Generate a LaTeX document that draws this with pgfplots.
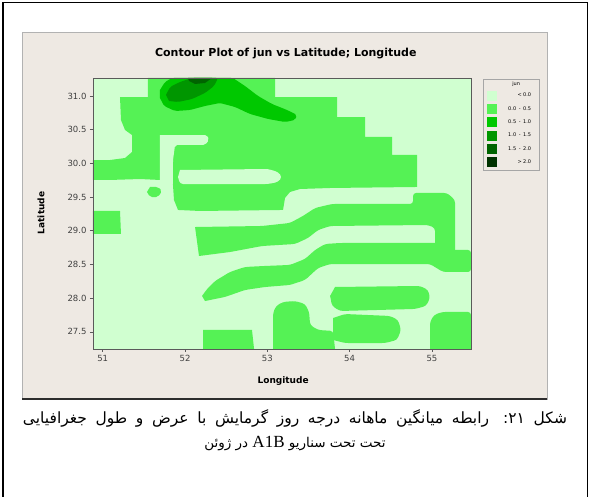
\documentclass[border=0pt]{standalone}
\usepackage{pgfplots}
\pgfplotsset{compat=1.18}
\usepackage{fontspec}
\setmainfont{DejaVu Sans}
\newfontfamily\arabicfont[Script=Arabic]{DejaVu Sans}
\newfontfamily\latinserif{Liberation Serif}
\TeXXeTstate=1

% contour level colours (jun)
\definecolor{c0}{RGB}{208,255,208}  % < 0.0
\definecolor{c1}{RGB}{85,242,85}    % 0.0 - 0.5
\definecolor{c2}{RGB}{0,200,0}      % 0.5 - 1.0
\definecolor{c3}{RGB}{0,150,0}      % 1.0 - 1.5
\definecolor{c4}{RGB}{0,100,0}      % 1.5 - 2.0
\definecolor{c5}{RGB}{0,50,0}       % > 2.0
\definecolor{panelbg}{RGB}{238,233,227}
\definecolor{axisgray}{RGB}{90,90,90}

\begin{document}
\begin{tikzpicture}[x=1pt,y=-1pt]
\path[use as bounding box] (0,0) rectangle (590,497);
\fill[white] (0,0) rectangle (590,497);
% cell frame
\draw[line width=1.4pt] (3,497) -- (3,2.5) -- (587.5,2.5) -- (587.5,497);
% graph panel
\fill[panelbg] (22,32) rectangle (547,399);
\draw[gray!60, line width=0.8pt] (22,32) rectangle (547,399);
\draw[gray!35!black, line width=1.5pt] (22,399) -- (547,399);

\begin{axis}[
  at={(93pt,-349pt)}, anchor=south west,
  scale only axis, width=378pt, height=271pt,
  xmin=50.882, xmax=55.475, ymin=27.246, ymax=31.267,
  axis background/.style={fill=c0},
  axis on top, no marks,
  axis line style={draw=axisgray, line width=0.8pt},
  tick align=outside, tick pos=left, major tick length=3pt,
  tick style={axisgray, line width=0.6pt},
  xtick={51,52,53,54,55}, ytick={27.5,28,28.5,29,29.5,30,30.5,31},
  yticklabel style={/pgf/number format/.cd, fixed, fixed zerofill, precision=1},
  /pgf/number format/assume math mode=true,
  ticklabel style={font=\fontsize{8.5}{10}\selectfont, text=black!75},
  title={Contour Plot of jun vs Latitude; Longitude},
  title style={font=\bfseries\fontsize{11}{13}\selectfont, at={(axis description cs:0.51,1.07)}, anchor=center},
  xlabel={Longitude}, ylabel={Latitude},
  xlabel style={font=\bfseries\fontsize{9}{11}\selectfont, at={(axis description cs:0.503,-0.118)}, anchor=center},
  ylabel style={font=\bfseries\fontsize{9}{11}\selectfont, at={(axis description cs:-0.1376,0.502)}, anchor=center},
  legend style={at={(axis description cs:1.0317,0.9963)}, anchor=north west,
    draw=gray!70, fill=panelbg, font=\fontsize{5}{6}\selectfont,
    inner xsep=4pt, inner ysep=3pt, row sep=3.3pt,
    nodes={inner sep=0pt}},
  legend cell align=left,
  legend image code/.code={\fill[#1, draw=none] (0pt,-5pt) rectangle (10pt,5pt);},
  every even column/.append style={column sep=7pt},
]

% 0.0 - 0.5 : main northern area
\addplot[fill=c1, draw=none, forget plot] coordinates {
 (51.210,30.985) (51.550,30.985) (51.550,31.267) (53.094,31.267) (53.094,30.985)
 (53.848,30.985) (53.848,30.688) (54.188,30.688) (54.188,30.392) (54.516,30.392)
 (54.516,30.125) (54.819,30.125) (54.819,29.650) (53.763,29.635) (53.398,29.620)
 (53.276,29.576) (53.215,29.487) (53.191,29.309) (52.182,29.294) (51.915,29.309)
 (51.866,29.457) (51.854,29.680) (51.769,29.709) (51.696,29.754) (51.453,29.768)
 (51.089,29.754) (50.882,29.754) (50.882,30.050) (51.089,30.050) (51.271,30.080)
 (51.356,30.169) (51.356,30.421) (51.271,30.496) (51.222,30.644)
};
% < 0.0 : openings inside it
\addplot[fill=c0, draw=none, forget plot, rounded corners=2pt] coordinates {
 (51.696,30.421) (52.268,30.421) (52.292,30.347) (52.243,30.273) (51.879,30.273)
 (51.854,30.050) (51.854,29.665) (51.696,29.665) (51.696,29.976)
};
\addplot[fill=c0, draw=none, forget plot, rounded corners=3pt] coordinates {
 (51.939,29.902) (53.009,29.917) (53.130,29.872) (53.179,29.798) (53.130,29.724)
 (53.009,29.694) (51.939,29.694) (51.915,29.798)
};
% 0.0 - 0.5 : smaller patches and bands
\addplot[fill=c1, draw=none, forget plot, rounded corners=2pt] coordinates {
 (51.575,29.650) (51.672,29.650) (51.721,29.591) (51.672,29.501) (51.575,29.501) (51.538,29.576)
};
\addplot[fill=c1, draw=none, forget plot] coordinates {
 (50.882,29.294) (51.210,29.294) (51.222,28.953) (50.882,28.953)
};
\addplot[fill=c1, draw=none, forget plot, rounded corners=3pt] coordinates {
 (52.122,29.056) (52.936,29.071) (53.276,29.116) (53.434,29.220) (53.580,29.338)
 (53.787,29.398) (54.771,29.398) (54.771,29.561) (55.184,29.561) (55.281,29.457)
 (55.281,28.537) (55.038,28.537) (55.038,29.041) (54.953,29.086) (53.763,29.071)
 (53.617,29.012) (53.495,28.893) (53.337,28.804) (52.936,28.774) (52.547,28.685)
 (52.170,28.626)
};
\addplot[fill=c1, draw=none, forget plot, rounded corners=3pt] coordinates {
 (52.207,28.033) (52.268,28.136) (52.365,28.255) (52.547,28.389) (52.729,28.463)
 (52.972,28.478) (53.276,28.493) (53.459,28.582) (53.580,28.715) (53.702,28.804)
 (53.884,28.819) (55.099,28.819) (55.135,28.715) (55.475,28.715) (55.475,28.389)
 (55.135,28.389) (54.977,28.507) (53.763,28.507) (53.617,28.448) (53.459,28.270)
 (53.276,28.196) (52.972,28.166) (52.729,28.122) (52.486,28.018) (52.243,27.958)
};
\addplot[fill=c1, draw=none, forget plot, rounded corners=3pt] coordinates {
 (53.823,28.166) (54.856,28.181) (54.953,28.122) (54.977,28.003) (54.929,27.884)
 (54.795,27.840) (53.884,27.810) (53.787,27.884) (53.763,28.033)
};
\addplot[fill=c1, draw=none, forget plot, rounded corners=3pt] coordinates {
 (53.070,27.246) (53.070,27.780) (53.106,27.884) (53.191,27.944) (53.337,27.958)
 (53.459,27.914) (53.508,27.795) (53.520,27.602) (53.617,27.528) (53.799,27.514)
 (53.823,27.246)
};
\addplot[fill=c1, draw=none, forget plot, rounded corners=3pt] coordinates {
 (53.799,27.706) (53.945,27.765) (54.491,27.736) (54.588,27.677) (54.625,27.528)
 (54.576,27.380) (54.431,27.335) (53.945,27.335) (53.799,27.380)
};
\addplot[fill=c1, draw=none, forget plot] coordinates {
 (52.219,27.528) (52.814,27.528) (52.839,27.246) (52.219,27.246)
};
\addplot[fill=c1, draw=none, forget plot, rounded corners=3pt] coordinates {
 (54.977,27.246) (54.977,27.647) (55.026,27.751) (55.123,27.795) (55.475,27.795) (55.475,27.246)
};
% 0.5 - 1.0
\addplot[fill=c2, draw=none, forget plot, rounded corners=2pt] coordinates {
 (51.696,31.089) (51.757,31.208) (51.842,31.267) (52.583,31.267) (52.729,31.148)
 (52.887,31.000) (53.057,30.881) (53.240,30.792) (53.361,30.718) (53.337,30.644)
 (53.215,30.614) (53.009,30.659) (52.790,30.733) (52.608,30.837) (52.425,30.896)
 (52.243,30.852) (52.061,30.792) (51.879,30.777) (51.745,30.852) (51.696,30.970)
};
% 1.0 - 1.5
\addplot[fill=c3, draw=none, forget plot, rounded corners=2pt] coordinates {
 (51.769,31.015) (51.818,31.134) (51.939,31.208) (52.085,31.267) (52.401,31.267)
 (52.353,31.148) (52.243,31.045) (52.085,30.955) (51.915,30.911) (51.806,30.926)
};
% 1.5 - 2.0
\addplot[fill=c4, draw=none, forget plot] coordinates {
 (52.037,31.267) (52.328,31.267) (52.243,31.193) (52.122,31.178) (52.049,31.223)
};

\addlegendimage{empty legend}
\addlegendentry{\makebox[38pt]{jun}}
\addlegendimage{fill=c0}
\addlegendentry{\makebox[19pt]{}\makebox[7pt]{<}\makebox[10pt][l]{0.0}}
\addlegendimage{fill=c1}
\addlegendentry{\makebox[19pt][r]{0.0}\makebox[7pt]{-}\makebox[10pt][l]{0.5}}
\addlegendimage{fill=c2}
\addlegendentry{\makebox[19pt][r]{0.5}\makebox[7pt]{-}\makebox[10pt][l]{1.0}}
\addlegendimage{fill=c3}
\addlegendentry{\makebox[19pt][r]{1.0}\makebox[7pt]{-}\makebox[10pt][l]{1.5}}
\addlegendimage{fill=c4}
\addlegendentry{\makebox[19pt][r]{1.5}\makebox[7pt]{-}\makebox[10pt][l]{2.0}}
\addlegendimage{fill=c5}
\addlegendentry{\makebox[19pt]{}\makebox[7pt]{>}\makebox[10pt][l]{2.0}}
\end{axis}

% caption (first line set full width, second centred)
\node[font=\arabicfont\fontsize{15.5}{17}\selectfont, inner sep=0pt] at (295,418)
 {\hbox to 544pt{\beginR شکل ۲۱: رابطه میانگین ماهانه درجه روز گرمایش با عرض و طول جغرافیایی\endR}};
\node[font=\arabicfont\fontsize{13.5}{15}\selectfont] at (295,444)
 {\beginR تحت تحت سناریو \beginL{\latinserif\fontsize{17}{19}\selectfont A1B}\endL{} در ژوئن\endR};
\end{tikzpicture}
\end{document}
